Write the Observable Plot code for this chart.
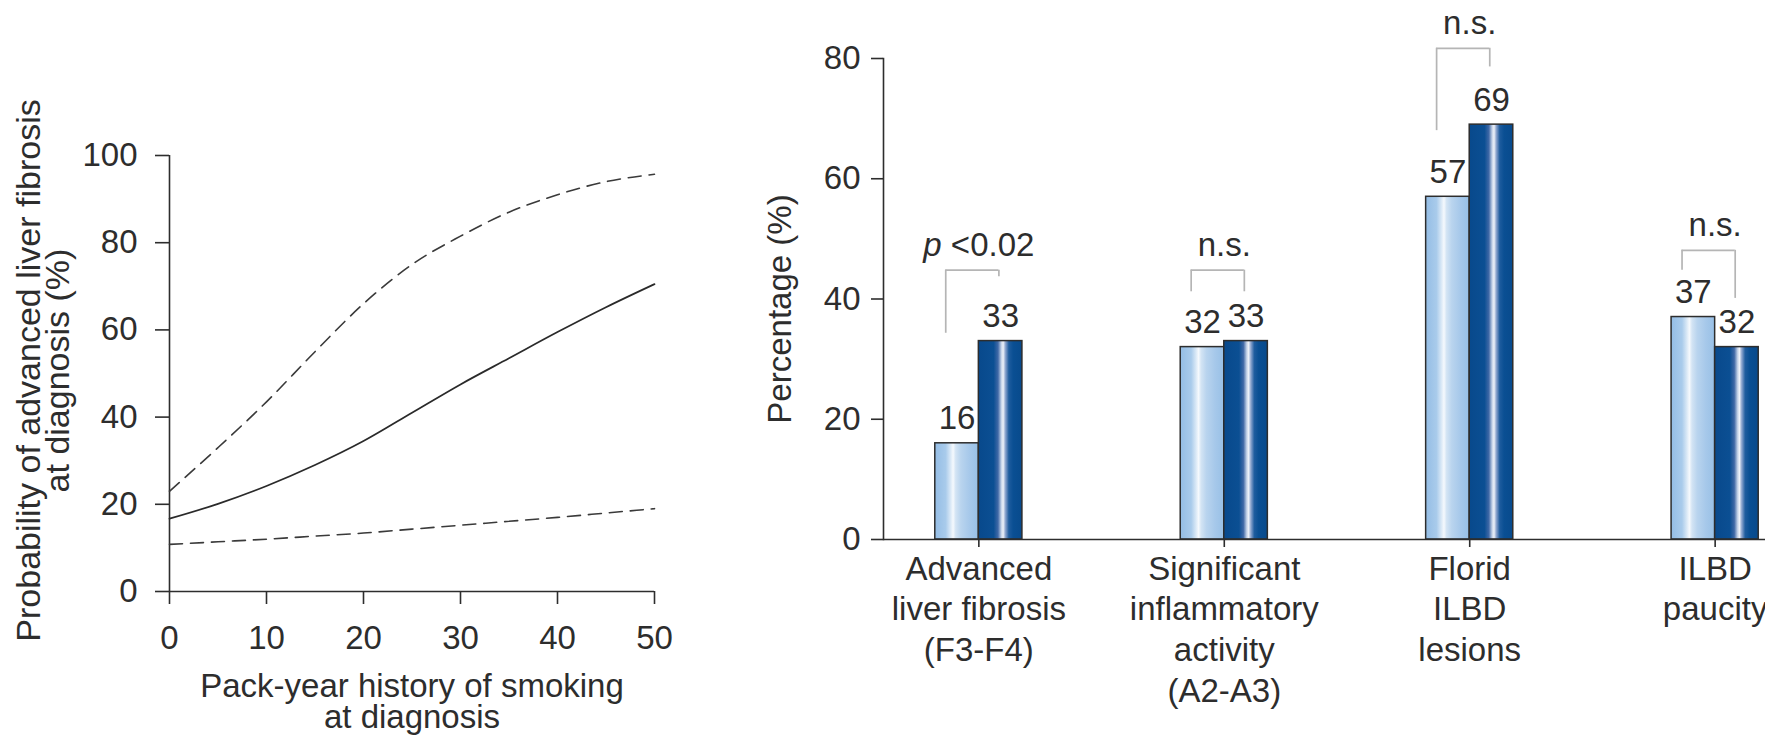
<!DOCTYPE html>
<html>
<head>
<meta charset="utf-8">
<script src="https://cdn.jsdelivr.net/npm/d3@7"></script>
<script src="https://cdn.jsdelivr.net/npm/@observablehq/plot@0.6"></script>
<style>
  html, body { margin: 0; padding: 0; background: #fff; overflow: hidden; }
  #wrap { position: relative; width: 1765px; height: 739px; overflow: hidden; background: #fff; }
  #left { position: absolute; left: 0; top: 0; width: 700px; height: 739px; }
  #right { position: absolute; left: 700px; top: 0; width: 1110px; height: 739px; }
  #wrap svg { max-width: none !important; display: block; }
</style>
</head>
<body>
<div id="wrap"><div id="left"></div><div id="right"></div></div>
<script>
// ---- Left panel: modelled probability vs. pack-years ----
const packYears   = [0, 5, 10, 15, 20, 25, 30, 35, 40, 45, 50];
const probability = [16.7, 20.1, 24.2, 29.0, 34.5, 41.0, 47.5, 53.5, 59.5, 65.2, 70.5];
const upperCI     = [23.0, 33.0, 43.5, 55.0, 66.0, 75.0, 81.5, 87.0, 91.0, 94.0, 95.7];
const lowerCI     = [10.8, 11.4, 12.0, 12.7, 13.4, 14.3, 15.2, 16.1, 17.0, 18.0, 19.0];
const xTicksLeft  = [0, 10, 20, 30, 40, 50];
const yTicksLeft  = [0, 20, 40, 60, 80, 100];

// ---- Right panel: histological features by group ----
const categories = [
  "Advanced\nliver fibrosis\n(F3-F4)",
  "Significant\ninflammatory\nactivity\n(A2-A3)",
  "Florid\nILBD\nlesions",
  "ILBD\npaucity"
];
const lightValues     = [16, 32, 57, 37];
const darkValues      = [33, 33, 69, 32];
const statLabels      = ["p <0.02", "n.s.", "n.s.", "n.s."];
const bracketLevel    = [44.8, 44.8, 81.7, 48.1];
const bracketLeftEnd  = [34.3, 41.2, 68.0, 44.8];
const bracketRightEnd = [43.7, 41.2, 78.6, 40.1];
const yTicksRight     = [0, 20, 40, 60, 80];

const FONT = "'Liberation Sans', Arial, Helvetica, sans-serif";
const INK = "#2d2d2d";
const BRACKET = "#b5b5b5";

// ---------- left chart ----------
const curveRows = packYears.map((x, i) => ({x, p: probability[i], hi: upperCI[i], lo: lowerCI[i]}));

const leftChart = Plot.plot({
  width: 700, height: 739,
  marginLeft: 169, marginRight: 46, marginTop: 155, marginBottom: 148,
  x: {domain: [0, 50]},
  y: {domain: [0, 100]},
  style: {fontFamily: FONT, fontSize: "33px", color: INK, background: "transparent"},
  marks: [
    Plot.ruleX([0], {stroke: INK, strokeWidth: 1.6}),
    Plot.ruleY([0], {stroke: INK, strokeWidth: 1.6}),
    Plot.axisX({ticks: xTicksLeft, tickSize: 13, tickPadding: 21, label: null, fontSize: 33, strokeWidth: 1.6}),
    Plot.axisY({ticks: yTicksLeft, tickSize: 14, tickPadding: 18, label: null, fontSize: 33, strokeWidth: 1.6}),
    Plot.line(curveRows, {x: "x", y: "hi", curve: "monotone-x", stroke: "#3a3a3a", strokeWidth: 1.6, strokeDasharray: "13,8"}),
    Plot.line(curveRows, {x: "x", y: "lo", curve: "monotone-x", stroke: "#3a3a3a", strokeWidth: 1.6, strokeDasharray: "13,8"}),
    Plot.line(curveRows, {x: "x", y: "p", curve: "monotone-x", stroke: "#2a2a2a", strokeWidth: 1.7}),
    Plot.text(["Pack-year history of smoking\nat diagnosis"], {
      frameAnchor: "bottom", textAnchor: "middle", lineAnchor: "top", dy: 83, lineHeight: 0.95, fontSize: 33, fill: INK
    }),
    Plot.text(["Probability of advanced liver fibrosis\nat diagnosis (%)"], {
      frameAnchor: "left", textAnchor: "middle", rotate: -90, lineAnchor: "middle", dx: -124, dy: -3, lineHeight: 0.86, fontSize: 34, fill: INK
    })
  ]
});
document.getElementById("left").appendChild(leftChart);

// ---------- right chart ----------
const RW = 1110, RML = 183, RMR = 0;
const PI = 0.645, PO = 0.211;
const step = (RW - RML - RMR) / (categories.length - PI + 2 * PO);
const bw = step * (1 - PI);   // width of one pair of bars

const rows = categories.map((category, i) => ({
  category,
  light: lightValues[i],
  dark: darkValues[i],
  stat: statLabels[i],
  level: bracketLevel[i],
  leftEnd: bracketLeftEnd[i],
  rightEnd: bracketRightEnd[i]
}));

const rightChart = Plot.plot({
  width: RW, height: 739,
  marginLeft: RML, marginRight: RMR, marginTop: 58, marginBottom: 200,
  x: {type: "band", domain: categories, paddingInner: PI, paddingOuter: PO, align: 0.5, round: false},
  y: {domain: [0, 80]},
  style: {fontFamily: FONT, fontSize: "33px", color: INK, background: "transparent"},
  marks: [
    Plot.barY(rows, {x: "category", y: "light", fill: "url(#gradLight)", stroke: INK, strokeWidth: 1.5, insetRight: bw / 2}),
    Plot.barY(rows, {x: "category", y: "dark", fill: "url(#gradDark)", stroke: INK, strokeWidth: 1.5, insetLeft: bw / 2}),
    Plot.frame({anchor: "left", stroke: INK, strokeWidth: 1.6}),
    Plot.ruleY([0], {stroke: INK, strokeWidth: 1.6}),
    Plot.axisY({ticks: yTicksRight, tickSize: 12, tickPadding: 11, label: null, fontSize: 33, strokeWidth: 1.6}),
    Plot.axisX({tickSize: 8, tickPadding: 3, label: null, fontSize: 33, lineHeight: 1.24, strokeWidth: 1.6}),
    Plot.text(rows, {x: "category", y: "light", text: (d) => String(d.light), dx: -bw / 4, dy: -14, lineAnchor: "bottom", fontSize: 33, fill: INK}),
    Plot.text(rows, {x: "category", y: "dark", text: (d) => String(d.dark), dx: bw / 4, dy: -14, lineAnchor: "bottom", fontSize: 33, fill: INK}),
    Plot.ruleX(rows, {x: "category", y1: "leftEnd", y2: "level", dx: -0.38 * bw, stroke: BRACKET, strokeWidth: 1.7}),
    Plot.ruleX(rows, {x: "category", y1: "rightEnd", y2: "level", dx: 0.23 * bw, stroke: BRACKET, strokeWidth: 1.7}),
    Plot.tickY(rows, {x: "category", y: "level", insetLeft: 0.12 * bw, insetRight: 0.27 * bw, stroke: BRACKET, strokeWidth: 1.7}),
    Plot.text(rows, {x: "category", y: "level", text: "stat", dy: -14, lineAnchor: "bottom", fontSize: 33, fill: INK}),
    Plot.text(["Percentage (%)"], {frameAnchor: "left", textAnchor: "middle", rotate: -90, dx: -103, dy: 10, fontSize: 33, fill: INK})
  ]
});

// bar shading gradients
const defs = d3.select(rightChart).insert("defs", ":first-child");
function addGradient(id, stops) {
  const g = defs.append("linearGradient").attr("id", id).attr("x1", 0).attr("x2", 1).attr("y1", 0).attr("y2", 0);
  for (const [o, c] of stops) g.append("stop").attr("offset", o).attr("stop-color", c);
}
addGradient("gradLight", [
  [0, "#94bde5"], [0.25, "#a9cbeb"], [0.36, "#d9e8f6"], [0.42, "#f5f9fd"],
  [0.48, "#d3e4f4"], [0.6, "#b9d4ee"], [0.8, "#a6c8ea"], [1, "#98c0e6"]
]);
addGradient("gradDark", [
  [0, "#08498c"], [0.35, "#0b4f93"], [0.45, "#3f68a6"], [0.53, "#c9d6ea"],
  [0.57, "#eef2f9"], [0.62, "#8ea6cf"], [0.7, "#1e5c9e"], [0.8, "#0a4f93"], [1, "#084a8c"]
]);

// italic "p" in the significance label
d3.select(rightChart).selectAll("text").each(function () {
  const t = this.textContent;
  if (this.childElementCount === 0 && t.startsWith("p <")) {
    const sel = d3.select(this);
    sel.text(null);
    sel.append("tspan").attr("font-style", "italic").text("p");
    sel.append("tspan").text(t.slice(1));
  }
});

document.getElementById("right").appendChild(rightChart);
</script>
</body>
</html>
